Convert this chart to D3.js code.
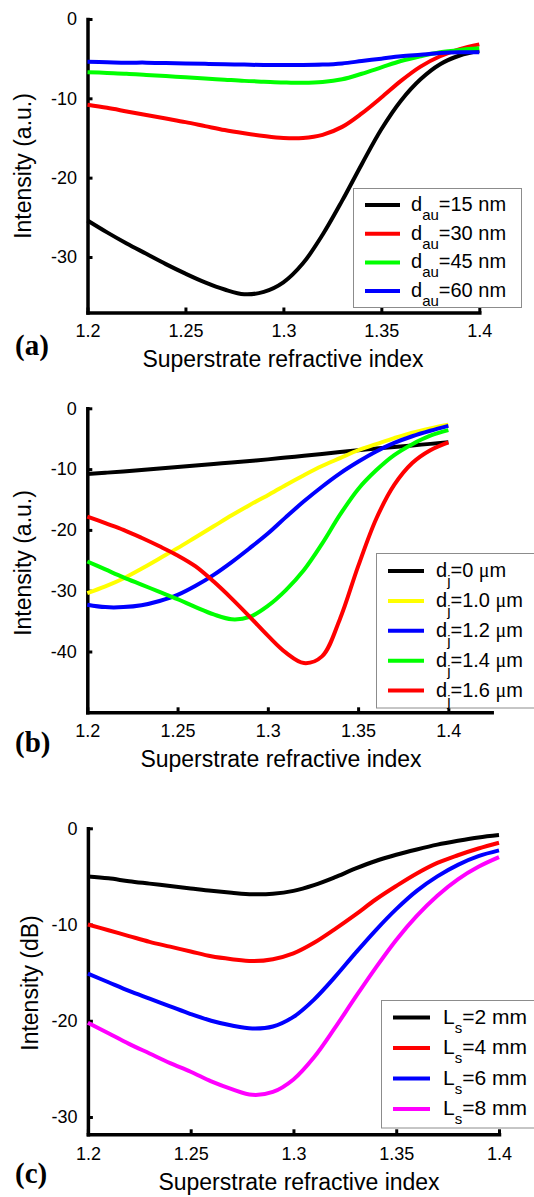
<!DOCTYPE html>
<html>
<head>
<meta charset="utf-8">
<script src="https://cdn.jsdelivr.net/npm/d3@7"></script>
<style>
  body { margin: 0; background: #fff; }
  svg { display: block; }
</style>
</head>
<body>
<svg id="fig" width="534" height="1197" font-family="Liberation Sans, Arial, sans-serif"></svg>
<script>
// superstrate refractive index, shared by all three panels
var nIndex = [1.20, 1.21, 1.22, 1.23, 1.24, 1.25, 1.26, 1.27, 1.28, 1.29, 1.30,
              1.31, 1.32, 1.33, 1.34, 1.35, 1.36, 1.37, 1.38, 1.39, 1.40];

// (a) gold thickness
var au15 = [-25.4, -26.9, -28.3, -29.6, -30.9, -32.1, -33.2, -34.1, -34.7, -34.4, -33.2,
            -30.8, -27.2, -22.9, -18.3, -13.9, -10.3, -7.6, -5.7, -4.6, -4.0];
var au30 = [-10.8, -11.2, -11.65, -12.1, -12.55, -13.0, -13.5, -14.0, -14.4, -14.75, -15.0,
            -15.0, -14.6, -13.6, -11.9, -9.9, -7.8, -6.0, -4.7, -3.8, -3.2];
var au45 = [-6.7, -6.8, -6.9, -7.05, -7.2, -7.35, -7.5, -7.65, -7.8, -7.9, -8.0,
            -8.05, -7.95, -7.6, -6.9, -6.1, -5.3, -4.7, -4.2, -3.9, -3.7];
var au60 = [-5.4, -5.45, -5.5, -5.5, -5.55, -5.6, -5.65, -5.7, -5.75, -5.8, -5.8,
            -5.8, -5.75, -5.6, -5.3, -5.0, -4.7, -4.5, -4.3, -4.2, -4.2];
var aNames = ["=15 nm", "=30 nm", "=45 nm", "=60 nm"];

// (b) d_j
var dj00 = [-10.8, -10.6, -10.4, -10.15, -9.9, -9.65, -9.4, -9.15, -8.9, -8.65, -8.4,
            -8.1, -7.8, -7.5, -7.2, -6.9, -6.6, -6.35, -6.1, -5.85, -5.6];
var dj10 = [-30.4, -29.3, -28.0, -26.4, -24.7, -23.0, -21.2, -19.4, -17.6, -15.9, -14.3,
            -12.6, -11.0, -9.5, -8.2, -6.9, -5.9, -4.9, -4.0, -3.3, -2.7];
var dj12 = [-32.3, -32.7, -32.7, -32.4, -31.7, -30.7, -29.2, -27.4, -25.3, -23.0, -20.6,
            -17.9, -15.3, -12.9, -10.7, -8.8, -7.1, -5.7, -4.6, -3.7, -2.9];
var dj14 = [-25.2, -26.5, -27.8, -29.0, -30.2, -31.4, -32.7, -33.9, -34.7, -34.3, -32.5,
            -29.9, -26.6, -22.3, -17.5, -13.3, -10.2, -7.7, -5.9, -4.5, -3.6];
var dj16 = [-17.8, -18.9, -20.0, -21.3, -22.7, -24.2, -26.0, -28.5, -31.3, -34.3, -37.4,
            -40.2, -41.9, -40.8, -34.6, -26.0, -18.2, -12.6, -9.0, -6.9, -5.6];
var bNames = ["=0 ", "=1.0 ", "=1.2 ", "=1.4 ", "=1.6 "];

// (c) sensing length
var ls2 = [-5.0, -5.2, -5.5, -5.75, -6.0, -6.25, -6.5, -6.7, -6.85, -6.8, -6.5,
           -5.9, -5.1, -4.2, -3.4, -2.75, -2.2, -1.7, -1.3, -0.95, -0.7];
var ls4 = [-10.0, -10.6, -11.2, -11.8, -12.3, -12.8, -13.3, -13.6, -13.8, -13.6, -13.0,
           -11.9, -10.5, -9.0, -7.4, -6.0, -4.7, -3.6, -2.8, -2.1, -1.5];
var ls6 = [-15.1, -16.0, -16.9, -17.7, -18.5, -19.3, -20.0, -20.5, -20.8, -20.6, -19.6,
           -17.8, -15.5, -13.0, -10.6, -8.4, -6.5, -5.0, -3.8, -2.9, -2.3];
var ls8 = [-20.2, -21.3, -22.4, -23.4, -24.4, -25.3, -26.3, -27.1, -27.7, -27.4, -26.1,
           -23.8, -20.8, -17.6, -14.5, -11.6, -9.1, -7.0, -5.3, -4.0, -3.0];
var cNames = ["=2 mm", "=4 mm", "=6 mm", "=8 mm"];

var xTicks = [1.2, 1.25, 1.3, 1.35, 1.4];
var yTicksA = [0, -10, -20, -30];
var yTicksB = [0, -10, -20, -30, -40];
var yTicksC = [0, -10, -20, -30];

var svg = d3.select("#fig");

function drawPanel(p) {
    var x = d3.scaleLinear().domain(p.xDomain).range(p.xRange),
        y = d3.scaleLinear().domain(p.yDomain).range(p.yRange);

    var g = svg.append("g");

    var xAxis = d3.axisBottom(x).tickValues(xTicks)
        .tickFormat(function(d) { return String(d); })
        .tickSizeInner(-5).tickSizeOuter(0).tickPadding(p.xPad);
    var yAxis = d3.axisLeft(y).tickValues(p.yTicks)
        .tickFormat(function(d) { return String(d); })
        .tickSizeInner(-5).tickSizeOuter(0).tickPadding(10.5);

    var gx = g.append("g")
        .attr("transform", "translate(0," + p.yRange[1] + ")")
        .call(xAxis);
    var gy = g.append("g")
        .attr("transform", "translate(" + p.xRange[0] + ",0)")
        .call(yAxis);

    [gx, gy].forEach(function(ax) {
        ax.attr("font-family", "Liberation Sans, Arial, sans-serif").attr("font-size", 18);
        ax.select(".domain").attr("stroke-width", 3.5).attr("stroke-linecap", "square");
        ax.selectAll(".tick line").attr("stroke-width", 3);
        ax.selectAll(".tick text").attr("fill", "#000");
    });

    var line = d3.line()
        .curve(d3.curveCatmullRom.alpha(0.5))
        .x(function(d) { return x(d[0]); })
        .y(function(d) { return y(d[1]); });

    p.series.forEach(function(s) {
        g.append("path")
            .datum(nIndex.map(function(n, i) { return [n, s.values[i]]; }))
            .attr("fill", "none")
            .attr("stroke", s.color)
            .attr("stroke-width", 4)
            .attr("stroke-linejoin", "round")
            .attr("d", line);
    });

    // axis titles
    g.append("text")
        .attr("x", p.xLabelX).attr("y", p.xLabelY)
        .attr("text-anchor", "middle")
        .attr("font-size", 23)
        .text("Superstrate refractive index");
    g.append("text")
        .attr("transform", "translate(" + p.yLabelX + "," + p.yLabelY + ") rotate(-90)")
        .attr("text-anchor", "middle")
        .attr("font-size", 23)
        .text(p.yTitle);

    g.append("text")
        .attr("x", 15).attr("y", p.tagY)
        .attr("font-family", "Liberation Serif, Times New Roman, serif")
        .attr("font-weight", "bold")
        .attr("font-size", 29)
        .text(p.tag);

    // legend
    var L = p.legend;
    g.append("rect")
        .attr("x", L.x).attr("y", L.y)
        .attr("width", L.w).attr("height", L.h)
        .attr("fill", "#fff")
        .attr("stroke", "#8c8c8c")
        .attr("stroke-width", 1);

    p.series.forEach(function(s, i) {
        var ly = L.first + i * L.step;
        g.append("line")
            .attr("x1", L.lx1).attr("x2", L.lx2)
            .attr("y1", ly).attr("y2", ly)
            .attr("stroke", s.color)
            .attr("stroke-width", 4);
        var t = g.append("text")
            .attr("x", L.tx).attr("y", ly + 6)
            .attr("font-size", L.fs);
        t.append("tspan").text(L.main);
        t.append("tspan").attr("font-size", 15).attr("dy", 9).text(L.sub);
        t.append("tspan").attr("dy", -9).text(s.name);
        if (L.unit) {
            t.append("tspan").attr("font-family", "Liberation Serif, serif").text("\u03bc");
            t.append("tspan").text("m");
        }
    });
}

drawPanel({
    xDomain: [1.2, 1.4], xRange: [87.5, 479.3],
    yDomain: [0, -37], yRange: [19, 312.5],
    yTicks: yTicksA, xPad: 11.5,
    yTitle: "Intensity (a.u.)", yLabelX: 30.7, yLabelY: 166,
    xLabelX: 283, xLabelY: 367, tag: "(a)", tagY: 355,
    series: [
        { values: au15, color: "#000000", name: aNames[0] },
        { values: au30, color: "#ff0000", name: aNames[1] },
        { values: au45, color: "#00ff00", name: aNames[2] },
        { values: au60, color: "#0000ff", name: aNames[3] }
    ],
    legend: { x: 353.5, y: 188.5, w: 168, h: 119, first: 205, step: 28.7,
              lx1: 365, lx2: 400, tx: 411, fs: 20, main: "d", sub: "au" }
});

drawPanel({
    xDomain: [1.2, 1.424], xRange: [87.3, 491.7],
    yDomain: [0, -50], yRange: [408.3, 712.3],
    yTicks: yTicksB, xPad: 11.5,
    yTitle: "Intensity (a.u.)", yLabelX: 30.7, yLabelY: 563,
    xLabelX: 281, xLabelY: 767, tag: "(b)", tagY: 752,
    series: [
        { values: dj00, color: "#000000", name: bNames[0] },
        { values: dj10, color: "#ffff00", name: bNames[1] },
        { values: dj12, color: "#0000ff", name: bNames[2] },
        { values: dj14, color: "#00ff00", name: bNames[3] },
        { values: dj16, color: "#ff0000", name: bNames[4] }
    ],
    legend: { x: 376.5, y: 553.5, w: 160, h: 154.5, first: 571, step: 29.9,
              lx1: 388, lx2: 424, tx: 436, fs: 20, main: "d", sub: "j", unit: true }
});

drawPanel({
    xDomain: [1.2, 1.4], xRange: [87.9, 499],
    yDomain: [0, -31.8], yRange: [828.3, 1134.3],
    yTicks: yTicksC, xPad: 13,
    yTitle: "Intensity (dB)", yLabelX: 38.3, yLabelY: 983,
    xLabelX: 299, xLabelY: 1190, tag: "(c)", tagY: 1183,
    series: [
        { values: ls2, color: "#000000", name: cNames[0] },
        { values: ls4, color: "#ff0000", name: cNames[1] },
        { values: ls6, color: "#0000ff", name: cNames[2] },
        { values: ls8, color: "#ff00ff", name: cNames[3] }
    ],
    legend: { x: 381.5, y: 1000.5, w: 160, h: 127.5, first: 1017.5, step: 30.5,
              lx1: 393, lx2: 430, tx: 443, fs: 21, main: "L", sub: "s" }
});
</script>
</body>
</html>
